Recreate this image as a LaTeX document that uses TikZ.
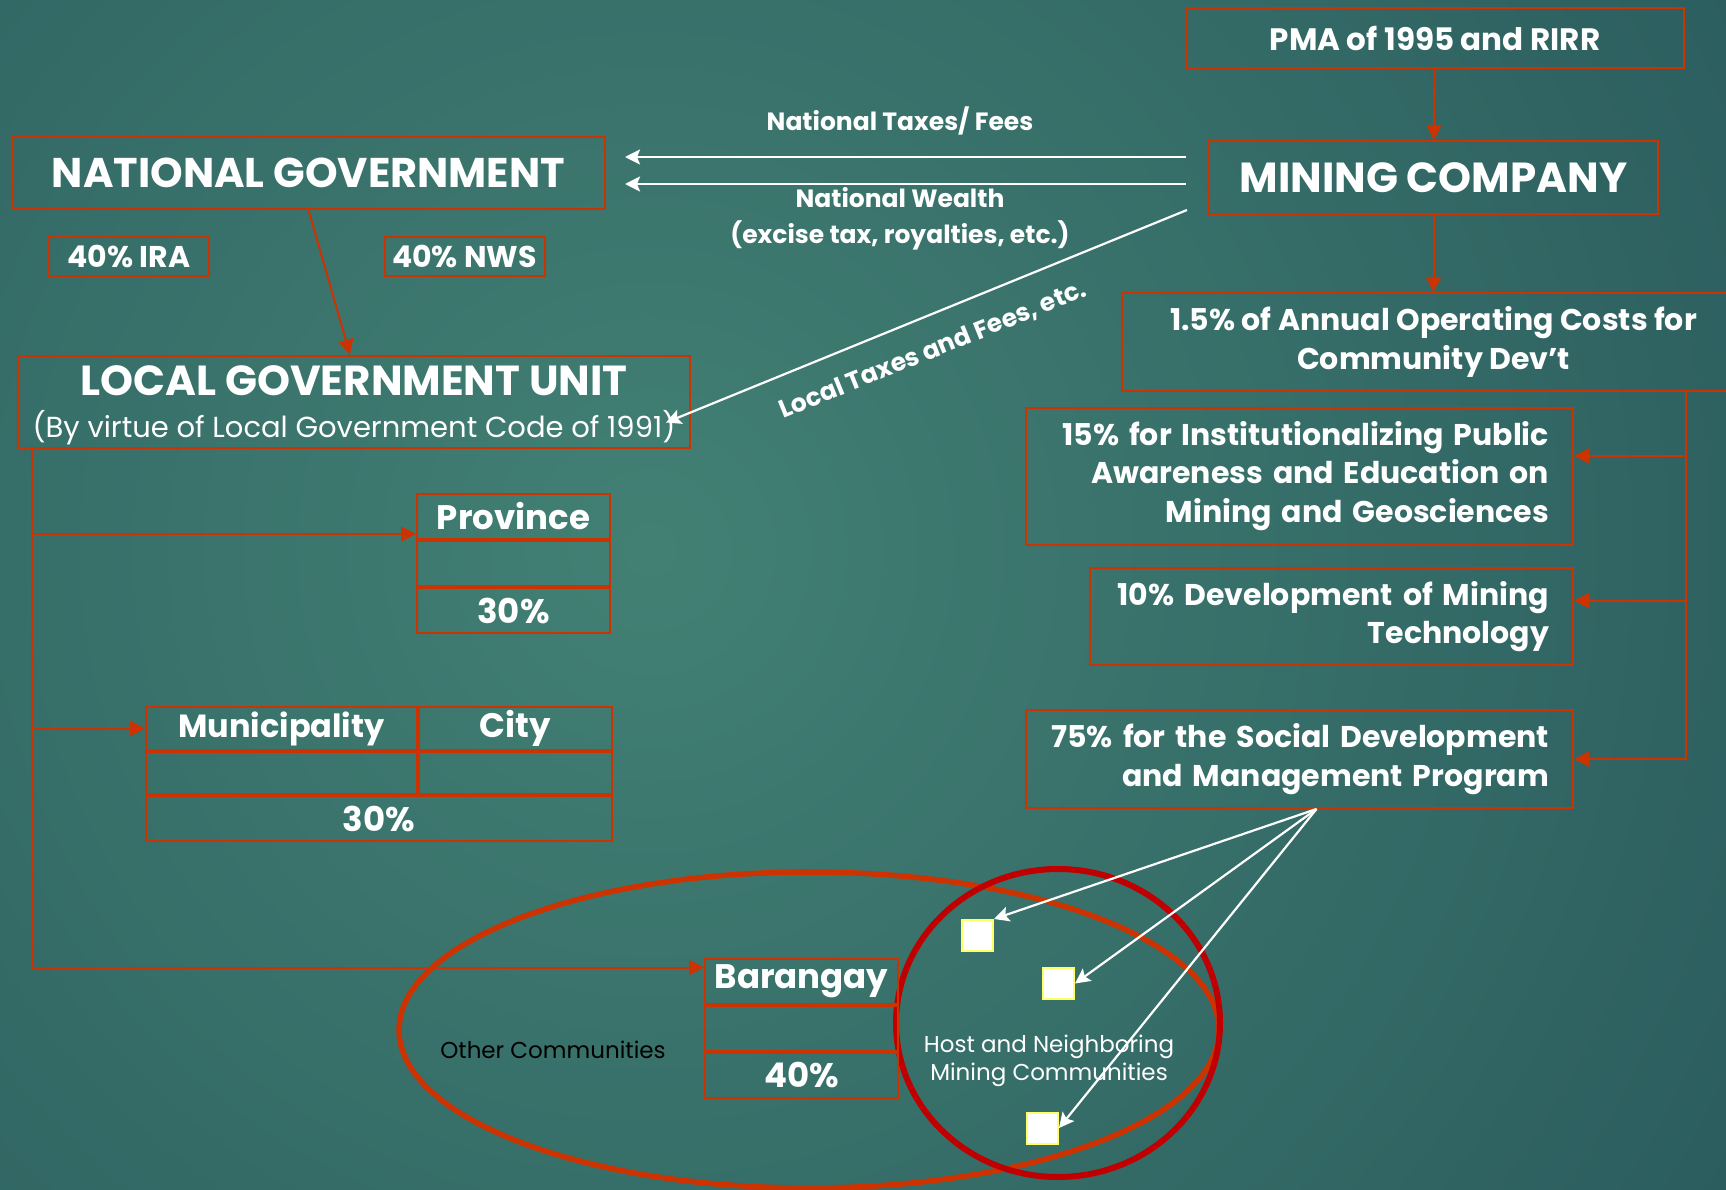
\documentclass[tikz,border=0pt]{standalone}
\usepackage{fontspec}
\setmainfont{Poppins}
\setsansfont{Poppins}
\usepackage{tikz}
\usetikzlibrary{
  arrows.meta,
  positioning,      % below=0pt of ...
  shapes.geometric, % ellipse
}
\definecolor{boxred}{RGB}{204,51,0}
\definecolor{ringred}{RGB}{192,0,0}
\definecolor{sqyellow}{RGB}{255,255,102}
\definecolor{bginner}{RGB}{66,128,116}
\definecolor{bgouter}{RGB}{20,58,72}
\def\titlefont{\fontsize{42}{48}\selectfont\bfseries}
\def\boxfont{\fontsize{30}{38.5}\selectfont\bfseries}
\def\cellfont{\fontsize{34}{40}\selectfont\bfseries}
\def\labelfont{\fontsize{25}{36}\selectfont\bfseries}
\def\thinfont{\fontsize{23}{28}\selectfont}
\tikzset{
  font=\sffamily,
  semithick,
  >=stealth,
  my box/.style={
    draw=boxred,
    line width=2pt,
    text=white,
    inner sep=0pt
  },
  my cell/.style={
    my box,
    font=\cellfont,
    minimum width=193pt,
    minimum height=45pt
  },
  my share/.style={
    my box,
    font=\boxfont,
    align=right,
    inner xsep=24pt
  },
  red arrow/.style={
    draw=boxred,
    line width=2pt,
    -{Triangle[length=15pt,width=15pt]}
  },
  white arrow/.style={
    draw=white,
    line width=2.2pt,
    -{Stealth[length=15pt,width=15pt,inset=3pt]}
  },
  white label/.style={
    text=white,
    font=\labelfont,
    align=center
  },
  ring/.style={
    ellipse,
    draw,
    inner sep=0pt
  },
  community/.style={
    fill=white,
    draw=sqyellow,
    line width=2pt,
    minimum size=31pt,
    inner sep=0pt
  }
}

\begin{document}
\begin{tikzpicture}[x=1pt,y=-1pt]
\useasboundingbox (0,0) rectangle (1726,1190);
\begin{scope}
  \clip (0,0) rectangle (1726,1190);
  \shade[inner color=bginner, outer color=bgouter] (650,550) circle (2500);
\end{scope}
% communities
\node[ring, draw=boxred, line width=5.5pt, minimum width=820pt, minimum height=316pt] (others) at (809,1030) {};
\node[ring, draw=ringred, line width=6pt, minimum width=324pt, minimum height=308pt] (host) at (1058,1023) {};
\node[font=\thinfont, text=black] (othertext) at (553,1050) {Other Communities};
\node[font=\thinfont, text=white, align=center] (hosttext) at (1049,1061) {Host and Neighboring\\Mining Communities};
\node[community] (sq1) at (977.5,935.5) {};
\node[community] (sq2) at (1058.5,983.5) {};
\node[community] (sq3) at (1042.5,1128) {};
% national side
\node[my box, font=\titlefont, minimum width=593pt, minimum height=72pt] (ng) at (308.5,173) {\fontsize{41.5}{48}\selectfont NATIONAL GOVERNMENT};
\node[my box, font=\boxfont, minimum width=160pt, minimum height=39pt] (ira) at (129,256.5) {40\% IRA};
\node[my box, font=\boxfont, minimum width=160pt, minimum height=39pt] (nws) at (464.5,256.5) {40\% NWS};
\node[my box, align=center, minimum width=672pt, minimum height=92pt] (lgu) at (354,401.5)
  {{\titlefont\rule{0pt}{38pt}LOCAL GOVERNMENT UNIT}\\[14pt]{\fontsize{29}{30}\selectfont(By virtue of Local Government Code of 1991)}};
% mining side
\node[my box, font=\boxfont, minimum width=498pt, minimum height=60pt] (pma) at (1435,38) {\fontsize{31}{38}\selectfont PMA of 1995 and RIRR};
\node[my box, font=\titlefont, minimum width=449pt, minimum height=73pt] (mc) at (1433.5,177.5) {MINING COMPANY};
\node[my box, font=\boxfont, align=center, minimum width=623pt, minimum height=98pt] (cd) at (1433.5,342)
  {1.5\% of Annual Operating Costs for\\Community Dev’t};
\node[my share, text width=499pt, minimum height=137pt] (pub) at (1299.5,476)
  {15\% for Institutionalizing Public\\Awareness and Education on\\Mining and Geosciences};
\node[my share, text width=435pt, minimum height=97pt] (tech) at (1331.5,616.5)
  {10\% Development of Mining\\Technology};
\node[my share, text width=499pt, minimum height=98pt] (sdmp) at (1299.5,759)
  {75\% for the Social Development\\and Management Program};
% shares of the LGU
\node[my cell, anchor=north west] (prov1) at (416,493) {Province};
\node[my cell, below=0pt of prov1] (prov2) {};
\node[my cell, below=0pt of prov2] (prov3) {30\%};
\node[my cell, minimum width=271pt, minimum height=43pt, anchor=north west] (muni1) at (145,706) {\fontsize{32}{40}\selectfont Municipality};
\node[my cell, minimum height=43pt, right=0pt of muni1] (city1) {City};
\node[my cell, minimum width=271pt, minimum height=42pt, below=0pt of muni1] (muni2) {};
\node[my cell, minimum height=42pt, below=0pt of city1] (city2) {};
\node[my cell, minimum width=466pt, anchor=north west] (mcpct) at (muni2.south west) {30\%};
\node[my cell, anchor=north west] (brgy1) at (704,958) {Barangay};
\node[my cell, below=0pt of brgy1] (brgy2) {};
\node[my cell, below=0pt of brgy2] (brgy3) {40\%};
% flows
\coordinate (taxrow) at (0,157);
\coordinate (wealthrow) at (0,184);
\coordinate (trunk) at ([xshift=15pt]lgu.south west);
\coordinate (rail) at (1686,392);
\node[white label] (taxtext) at (900,121) {National Taxes/ Fees};
\node[white label] (wealthtext) at (900,219) {National Wealth\\(excise tax, royalties, etc.)};
\node[white label, rotate=22] (localtext) at (933,350) {Local Taxes and Fees, etc.};
\draw[white arrow, shorten <=22pt, shorten >=19pt] (mc.west |- taxrow) -- (ng.east |- taxrow);
\draw[white arrow, shorten <=22pt, shorten >=19pt] (mc.west |- wealthrow) -- (ng.east |- wealthrow);
\draw[white arrow] ([xshift=-21pt,yshift=5pt]mc.south west) -- ([xshift=-25pt,yshift=-21pt]lgu.east);
\draw[red arrow] (pma) -- (mc);
\draw[red arrow] (mc.south) -- (mc.south |- cd.north);
\draw[red arrow] (ng.south) -- ([xshift=-4pt]lgu.north);
\draw[red arrow] (rail) |- ([yshift=20pt]pub.east);
\draw[red arrow] (rail) |- ([yshift=16pt]tech.east);
\draw[red arrow] (rail) |- (sdmp.east);
\draw[red arrow] (trunk) |- ([yshift=6pt]prov1.south west);
\draw[red arrow] (trunk) |- (muni1.west);
\draw[red arrow] (trunk) |- ([yshift=14pt]brgy1.west);
\draw[white arrow] ([xshift=17pt]sdmp.south) -- (sq1.north east);
\draw[white arrow] ([xshift=17pt]sdmp.south) -- (sq2.east);
\draw[white arrow] ([xshift=17pt]sdmp.south) -- (sq3.east);
\end{tikzpicture}
\end{document}
